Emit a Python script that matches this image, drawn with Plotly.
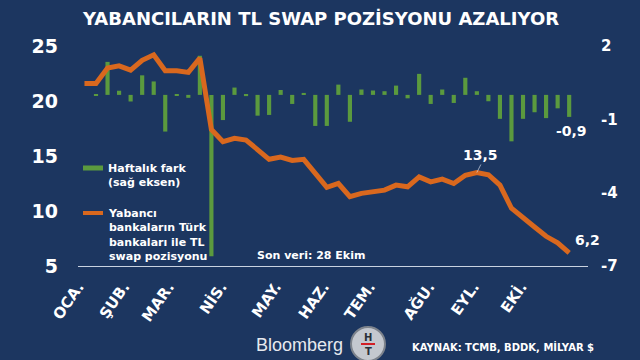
import pandas as pd
import plotly.graph_objects as go

# ---------------- data ----------------
dates = pd.date_range("2022-01-07", periods=43, freq="7D")

swap_position = [21.6, 21.6, 23.0, 23.2, 22.8, 23.7, 24.2, 22.75, 22.75, 22.6,
                 23.9, 17.4, 16.3, 16.6, 16.45, 15.5, 14.7, 14.9, 14.6, 14.7,
                 13.4, 12.15, 12.5, 11.3, 11.6, 11.75, 11.9, 12.35, 12.2, 13.1,
                 12.65, 12.9, 12.5, 13.25, 13.5, 13.3, 12.35, 10.25, 9.35, 8.55,
                 7.7, 7.1, 6.2]

weekly_diff = [-0.04, 1.35, 0.17, -0.27, 0.8, 0.55, -1.5, -0.03, -0.12, 1.6,
               -6.6, -1.03, 0.3, -0.05, -0.85, -0.82, 0.2, -0.37, 0.08, -1.27,
               -1.27, 0.42, -1.1, 0.22, 0.18, 0.15, 0.38, -0.14, 0.86, -0.37,
               0.22, -0.33, 0.7, 0.15, -0.26, -0.98, -1.9, -0.98, -0.71, -0.95,
               -0.55, -0.9]

month_ticks = ["2022-01-03 06:00", "2022-01-31", "2022-02-27", "2022-03-31", "2022-05-03",
               "2022-06-01", "2022-06-29", "2022-08-04", "2022-08-31", "2022-09-29"]
month_labels = ["OCA.", "ŞUB.", "MAR.", "NİS.", "MAY.", "HAZ.", "TEM.", "AĞU.", "EYL.", "EKİ."]

left_ticks = [5, 10, 15, 20, 25]
right_ticks = [2, -1, -4, -7]
right_labels = ["2", "-1", "-4", "-7"]

# ---------------- style ----------------
BG = "#1c3660"
GREEN = "#5b9a3e"
ORANGE = "#d9681e"
WHITE = "#ffffff"
FONT = "DejaVu Sans"

W, H = 640, 360
L, R, T, B = 78, 52, 46, 94
PW, PH = W - L - R, H - T - B


def px(x):
    return (x - L) / PW


def py(y):
    return (H - B - y) / PH


fig = go.Figure()

fig.add_trace(go.Bar(
    x=dates[1:], y=weekly_diff, yaxis="y", marker=dict(color=GREEN, line=dict(width=0)),
    name="Haftalık fark (sağ eksen)", showlegend=False,
))
fig.add_trace(go.Scatter(
    x=dates, y=swap_position, yaxis="y2", mode="lines",
    line=dict(color=ORANGE, width=5), name="Yabancı bankaların Türk bankaları ile TL swap pozisyonu",
    showlegend=False,
))

fig.update_layout(
    width=W, height=H,
    margin=dict(l=L, r=R, t=T, b=B, autoexpand=False),
    paper_bgcolor=BG, plot_bgcolor=BG,
    bargap=0.64,
    font=dict(family=FONT, color=WHITE),
    xaxis=dict(
        type="date",
        range=["2022-01-03 02:00", "2022-11-08 10:00"],
        tickvals=month_ticks, ticktext=month_labels, tickangle=-55,
        tickfont=dict(size=15, weight="bold", color=WHITE), ticklabelstandoff=5,
        showgrid=False, zeroline=False, ticks="", automargin=False,
        showline=True, linecolor="#c9d2e0", linewidth=1,
    ),
    yaxis=dict(
        side="right", range=[-7, 2], tickvals=right_ticks, ticktext=right_labels,
        tickfont=dict(size=15, weight="bold", color=WHITE), automargin=False,
        showgrid=False, zeroline=False, ticks="", ticklabelstandoff=12,
    ),
    yaxis2=dict(
        side="left", overlaying="y", range=[5, 25], tickvals=left_ticks,
        tickfont=dict(size=19, weight="bold", color=WHITE), automargin=False,
        showgrid=False, zeroline=False, ticks="", ticklabelstandoff=19,
    ),
)

ann = []
ann.append(dict(text="YABANCILARIN TL SWAP POZİSYONU AZALIYOR", xref="paper", yref="paper",
                x=px(320), y=py(18), showarrow=False, xanchor="center", yanchor="middle",
                font=dict(size=18, weight="bold", color=WHITE, family=FONT)))
# data labels
ann.append(dict(text="13,5", x=dates[34], y=swap_position[34], xref="x", yref="y2",
                showarrow=True, arrowhead=0, arrowwidth=0.7, arrowcolor="#cfd6e2",
                ax=4, ay=-8, xanchor="center", yanchor="bottom",
                font=dict(size=14, weight="bold", color=WHITE)))
ann.append(dict(text="6,2", x=dates[42], y=swap_position[42], xref="x", yref="y2",
                showarrow=False, xanchor="left", yanchor="bottom", xshift=4, yshift=3,
                font=dict(size=14, weight="bold", color=WHITE)))
ann.append(dict(text="-0,9", x=dates[42], y=weekly_diff[41], xref="x", yref="y",
                showarrow=False, xanchor="center", yanchor="top", xshift=2, yshift=-4,
                font=dict(size=14, weight="bold", color=WHITE)))
ann.append(dict(text="Son veri: 28 Ekim", xref="paper", yref="paper", x=px(255), y=py(255),
                showarrow=False, xanchor="left", yanchor="middle",
                font=dict(size=11, weight="bold", color=WHITE)))
# legend
ann.append(dict(text="Haftalık fark<br>(sağ eksen)", xref="paper", yref="paper",
                x=px(106), y=py(160), showarrow=False, xanchor="left", yanchor="top", align="left",
                font=dict(size=11, weight="bold", color=WHITE)))
ann.append(dict(text="Yabancı<br>bankaların Türk<br>bankaları ile TL<br>swap pozisyonu", xref="paper",
                yref="paper", x=px(106), y=py(205), showarrow=False, xanchor="left", yanchor="top",
                align="left", font=dict(size=11, weight="bold", color=WHITE)))
# footer
ann.append(dict(text="Bloomberg", xref="paper", yref="paper", x=px(299), y=py(345),
                showarrow=False, xanchor="center", yanchor="middle",
                font=dict(size=18, family="Liberation Sans", color="#e6e9ee")))
ann.append(dict(text="KAYNAK: TCMB, BDDK, MİLYAR $", xref="paper", yref="paper", x=px(410), y=py(346),
                showarrow=False, xanchor="left", yanchor="middle",
                font=dict(size=10, weight="bold", color=WHITE)))
ann.append(dict(text="H", xref="paper", yref="paper", x=px(368), y=py(337),
                showarrow=False, xanchor="center", yanchor="middle",
                font=dict(size=10, weight="bold", color="#2a2f38")))
ann.append(dict(text="T", xref="paper", yref="paper", x=px(368), y=py(351),
                showarrow=False, xanchor="center", yanchor="middle",
                font=dict(size=10, weight="bold", color="#2a2f38")))
fig.update_layout(annotations=ann)

shapes = [
    dict(type="line", xref="paper", yref="paper", x0=px(83), x1=px(103), y0=py(168), y1=py(168),
         line=dict(color=GREEN, width=5)),
    dict(type="line", xref="paper", yref="paper", x0=px(83), x1=px(103), y0=py(213), y1=py(213),
         line=dict(color=ORANGE, width=4)),
    dict(type="circle", xref="paper", yref="paper", x0=px(351), x1=px(385), y0=py(327), y1=py(361),
         fillcolor="#c4c8cf", line=dict(color="#7d838c", width=2)),
    dict(type="line", xref="paper", yref="paper", x0=px(361), x1=px(375), y0=py(344), y1=py(344),
         line=dict(color="#d21f26", width=2)),
]
fig.update_layout(shapes=shapes)

fig.write_html("out.html", config={"displayModeBar": False},
               post_script="document.body.style.margin='0px';document.body.style.overflow='hidden';")
